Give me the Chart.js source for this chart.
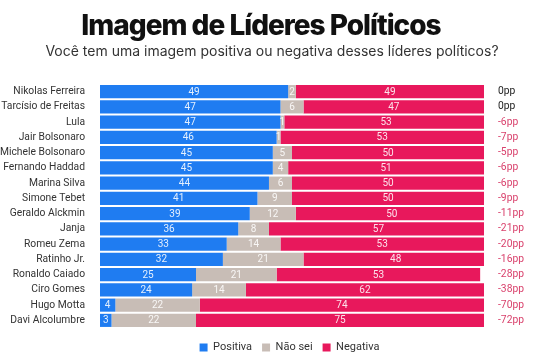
<!DOCTYPE html>
<html>
<head>
<meta charset="utf-8">
<script src="https://cdn.jsdelivr.net/npm/chart.js@4.4.0/dist/chart.umd.min.js"></script>
<style>
  body { margin: 0; background: #fff; font-family: Inter, "Noto Sans", sans-serif; }
  #wrap { width: 555px; height: 359px; position: relative; }
  #titulo { position: absolute; left: 0; width: 522px; top: 7px; text-align: center;
    font-size: 28px; font-weight: 800; letter-spacing: -1px; color: #111; line-height: 36px; }
  #sub { position: absolute; left: 0; width: 544px; top: 41px; text-align: center;
    font-size: 14px; color: #333; line-height: 20px; }
  canvas { position: absolute; left: 0; top: 0; }
</style>
</head>
<body>
<div id="wrap">
  <canvas id="chart" width="555" height="359"></canvas>
  <div id="titulo">Imagem de Líderes Políticos</div>
  <div id="sub">Você tem uma imagem positiva ou negativa desses líderes políticos?</div>
</div>
<script>
const lideres = ['Nikolas Ferreira', 'Tarcísio de Freitas', 'Lula', 'Jair Bolsonaro', 'Michele Bolsonaro',
  'Fernando Haddad', 'Marina Silva', 'Simone Tebet', 'Geraldo Alckmin', 'Janja', 'Romeu Zema',
  'Ratinho Jr.', 'Ronaldo Caiado', 'Ciro Gomes', 'Hugo Motta', 'Davi Alcolumbre'];
const positiva = [49, 47, 47, 46, 45, 45, 44, 41, 39, 36, 33, 32, 25, 24, 4, 3];
const naoSei   = [2, 6, 1, 1, 5, 4, 6, 9, 12, 8, 14, 21, 21, 14, 22, 22];
const negativa = [49, 47, 53, 53, 50, 51, 50, 50, 50, 57, 53, 48, 53, 62, 74, 75];
const saldo    = ['0pp', '0pp', '-6pp', '-7pp', '-5pp', '-6pp', '-6pp', '-9pp', '-11pp', '-21pp',
  '-20pp', '-16pp', '-28pp', '-38pp', '-70pp', '-72pp'];

const azul = '#1f7cf1';
const cinza = '#c8bdb6';
const rosa = '#e8185c';
const fonte = 'Roboto, "Noto Sans", sans-serif';

// numeros dentro das barras
const rotulos = {
  id: 'rotulos',
  afterDatasetsDraw(chart) {
    const ctx = chart.ctx;
    ctx.save();
    ctx.font = '10px ' + fonte;
    ctx.textAlign = 'center';
    ctx.textBaseline = 'middle';
    ctx.fillStyle = 'rgba(255,255,255,0.88)';
    chart.data.datasets.forEach((ds, i) => {
      chart.getDatasetMeta(i).data.forEach((bar, j) => {
        const w = Math.abs(bar.x - bar.base);
        if (w < 3) return;
        ctx.fillText(ds.data[j], (bar.x + bar.base) / 2, bar.y + 0.5);
      });
    });
    ctx.restore();
  }
};

// empurra a legenda um pouco para a direita e para baixo
const moveLegenda = {
  id: 'moveLegenda',
  afterLayout(chart) {
    const lg = chart.legend;
    lg.left += 12; lg.right += 12;
    lg.top += 4; lg.bottom += 4;
  }
};

new Chart(document.getElementById('chart'), {
  type: 'bar',
  data: {
    labels: lideres,
    datasets: [
      { label: 'Positiva', data: positiva, backgroundColor: azul },
      { label: 'Não sei', data: naoSei, backgroundColor: cinza },
      { label: 'Negativa', data: negativa, backgroundColor: rosa }
    ]
  },
  options: {
    indexAxis: 'y',
    responsive: false,
    animation: false,
    layout: { padding: { left: 0, right: 0, top: 84, bottom: 0 } },
    datasets: { bar: { categoryPercentage: 1, barPercentage: 0.86 } },
    scales: {
      x: { stacked: true, min: 0, max: 100, display: false },
      y: {
        stacked: true,
        afterFit: s => { s.width = 100; },
        grid: { display: false },
        border: { display: false },
        ticks: { autoSkip: false, color: '#333', padding: 7, font: { size: 10.3, family: fonte } }
      },
      y2: {
        type: 'category',
        labels: saldo,
        position: 'right',
        offset: true,
        afterFit: s => { s.width = 71; },
        grid: { display: false },
        border: { display: false },
        ticks: {
          autoSkip: false, padding: 6, font: { size: 10.3, family: fonte },
          color: c => (saldo[c.index] === '0pp' ? '#222' : '#d9416c')
        }
      }
    },
    plugins: {
      legend: {
        position: 'bottom',
        labels: {
          boxWidth: 8, boxHeight: 8, padding: 10, color: '#333',
          font: { size: 11, family: fonte }
        }
      },
      tooltip: { enabled: false }
    }
  },
  plugins: [rotulos, moveLegenda]
});
</script>
</body>
</html>
